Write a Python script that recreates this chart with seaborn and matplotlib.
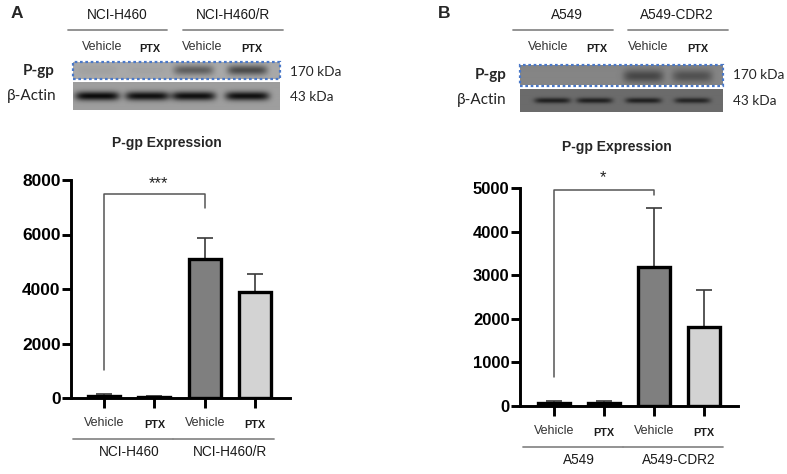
import numpy as np
import pandas as pd
import matplotlib
matplotlib.use("Agg")
import matplotlib.pyplot as plt
import matplotlib.transforms as mtransforms
from matplotlib.patches import Rectangle
import seaborn as sns

# ---------------------------
# Data
# ---------------------------
treatments = ["Vehicle", "PTX", "Vehicle", "PTX"]
cells_a = ["NCI-H460", "NCI-H460/R"]
cells_b = ["A549", "A549-CDR2"]

pgp_a = [80, 50, 5100, 3880]
sem_a = [60, 30, 780, 660]
pgp_b = [80, 80, 3200, 1810]
sem_b = [35, 35, 1340, 860]

# significance bracket: (top, left leg end, right leg end, label)
sig_a = (7500, 1030, 6970, "***")
sig_b = (4960, 660, 4850, "*")

yticks_a = [0, 2000, 4000, 6000, 8000]
yticks_b = [0, 1000, 2000, 3000, 4000, 5000]

bar_colors = ["white", "white", "#7f7f7f", "#d3d3d3"]

# western blot band intensities per lane (0 = none, 1 = saturated)
blot_a_pgp = [0.03, 0.02, 0.28, 0.36]
blot_a_actin = [0.58, 0.56, 0.56, 0.56]
blot_b_pgp = [0.0, 0.0, 0.24, 0.2]
blot_b_actin = [0.30, 0.30, 0.30, 0.28]

# ---------------------------
# Figure setup
# ---------------------------
W, H = 787, 474
sns.set_style("ticks")
plt.rcParams["font.family"] = ["Liberation Sans", "DejaVu Sans"]
fig = plt.figure(figsize=(W / 100, H / 100), dpi=100)


def fx(x):
    return x / W


def fy(y):
    return 1 - y / H


def ftext(x, y, s, **kw):
    kw.setdefault("ha", "center")
    kw.setdefault("va", "center")
    fig.text(fx(x), fy(y), s, **kw)


def make_blot(w, h, centers, amps, bg, half_w, half_h, yc=0.5):
    xs = np.arange(w)[None, :]
    ys = np.arange(h)[:, None]
    img = np.full((h, w), bg, dtype=float)
    for c, a in zip(centers, amps):
        prof_x = np.exp(-((xs - c * w) / half_w) ** 6)
        prof_y = np.exp(-((ys - yc * h) / half_h) ** 2)
        img -= a * prof_x * prof_y
    return np.clip(img, 0, 1)


def draw_blot(x0, y0, x1, y1, centers, amps, bg, half_w, half_h, dotted=False, yc=0.5):
    ax = fig.add_axes([fx(x0), fy(y1), fx(x1 - x0), (y1 - y0) / H])
    img = make_blot(int(x1 - x0), int(y1 - y0), centers, amps, bg, half_w, half_h, yc)
    ax.imshow(img, cmap="gray", vmin=0, vmax=1, aspect="auto", interpolation="bilinear")
    ax.set_axis_off()
    if dotted:
        ax.add_patch(Rectangle((0, 0), 1, 1, transform=ax.transAxes, fill=False,
                               edgecolor="#4a78c8", linestyle=(0, (1.2, 1.2)),
                               linewidth=1.6, clip_on=False))


def bar_panel(rect, values, errs, yticks, xlim, sig, tick_fs):
    ax = fig.add_axes(rect)
    df = pd.DataFrame({
        "group": [f"g{i}" for i in range(len(values))],
        "value": values,
    })
    sns.barplot(data=df, x="group", y="value", hue="group", palette=bar_colors,
                width=0.64, edgecolor="black", linewidth=2.4, legend=False,
                ax=ax, zorder=3)
    ax.errorbar(range(len(values)), values, yerr=[np.zeros(len(errs)), errs],
                fmt="none", ecolor="#3a3a3a", elinewidth=1.2, capsize=5.5,
                capthick=1.2, zorder=2)
    ax.set_xlim(*xlim)
    ax.set_ylim(yticks[0], yticks[-1])
    ax.set_yticks(yticks)
    ax.set_yticklabels([str(t) for t in yticks], fontweight="bold", fontsize=tick_fs)
    ax.set_xticks(range(len(values)))
    ax.set_xticklabels([])
    ax.set_xlabel("")
    ax.set_ylabel("")
    sns.despine(ax=ax)
    for side in ["left", "bottom"]:
        ax.spines[side].set_linewidth(2.1)
        ax.spines[side].set_color("black")
    ax.tick_params(axis="y", length=6.5, width=2.1, pad=1, colors="black")
    ax.tick_params(axis="x", length=7, width=2.1, colors="black")
    ax.patch.set_alpha(0)

    top, left_end, right_end, label = sig
    ax.plot([0, 0, 2, 2], [left_end, top, top, right_end], color="#555555",
            linewidth=1.1, clip_on=False, zorder=4)
    return ax


def under_labels(ax, cells, y_treat, y_line, y_cell):
    tr = mtransforms.blended_transform_factory(ax.transData, fig.transFigure)
    for i, t in enumerate(treatments):
        if t == "PTX":
            ax.text(i, fy(y_treat + 1.5), t, transform=tr, ha="center", va="center",
                    fontsize=7.8, fontweight="bold", color="#1a1a1a")
        else:
            ax.text(i, fy(y_treat), t, transform=tr, ha="center", va="center",
                    fontsize=9, color="#333333")
    for k, c in enumerate(cells):
        x0, x1 = 2 * k - 0.62, 2 * k + 1.38
        ax.plot([x0, x1], [fy(y_line)] * 2, transform=tr, color="#8a8a8a",
                linewidth=1.3, clip_on=False)
        ax.text(2 * k + 0.5, fy(y_cell), c, transform=tr, ha="center", va="center",
                fontsize=9.8, color="#1a1a1a")


# ---------------------------
# Panel A
# ---------------------------
ftext(17, 13, "A", fontsize=12.5, fontweight="bold")
ftext(117, 15, cells_a[0], fontsize=9.8, color="#1a1a1a")
ftext(233, 15, cells_a[1], fontsize=9.8, color="#1a1a1a")
fig.add_artist(plt.Line2D([fx(68), fx(167)], [fy(30)] * 2, color="#8a8a8a", lw=1.3))
fig.add_artist(plt.Line2D([fx(183), fx(283)], [fy(30)] * 2, color="#8a8a8a", lw=1.3))
for xc, t in zip([102, 150, 202, 252], treatments):
    if t == "PTX":
        ftext(xc, 49, t, fontsize=7.8, fontweight="bold", color="#1a1a1a")
    else:
        ftext(xc, 47, t, fontsize=9, color="#333333")

lanes_a = [0.116, 0.357, 0.58, 0.84]
draw_blot(73, 62, 280, 79, lanes_a, blot_a_pgp, 0.66, 20, 5, dotted=True, yc=0.45)
draw_blot(73, 81.5, 280, 110, lanes_a, blot_a_actin, 0.62, 22, 4.3, yc=0.5)
ftext(55, 71, "P-gp", ha="right", fontsize=11, fontweight="bold",
      family=["Lato", "DejaVu Sans"])
ftext(57, 96, "β-Actin", ha="right", fontsize=11, family=["Lato", "DejaVu Sans"],
      color="#222222")
ftext(290, 72, "170 kDa", ha="left", fontsize=9.8, family=["Lato", "DejaVu Sans"])
ftext(290, 97, "43 kDa", ha="left", fontsize=9.8, family=["Lato", "DejaVu Sans"])

ftext(167, 143, "P-gp Expression", fontsize=10, fontweight="bold")
ax_a = bar_panel([fx(71), fy(398), 219 / W, 218 / H], pgp_a, sem_a, yticks_a,
                 (-0.656, 3.695), sig_a, 12.5)
ftext(158, 184, sig_a[3], fontsize=12, color="#222222")
under_labels(ax_a, cells_a, 423, 439, 452.5)

# ---------------------------
# Panel B
# ---------------------------
ftext(444, 13, "B", fontsize=12.5, fontweight="bold")
ftext(567, 15, cells_b[0], fontsize=9.8, color="#1a1a1a")
ftext(677, 15, cells_b[1], fontsize=9.8, color="#1a1a1a")
fig.add_artist(plt.Line2D([fx(513), fx(613)], [fy(30)] * 2, color="#8a8a8a", lw=1.3))
fig.add_artist(plt.Line2D([fx(628), fx(728)], [fy(30)] * 2, color="#8a8a8a", lw=1.3))
for xc, t in zip([548, 597, 648, 698], treatments):
    if t == "PTX":
        ftext(xc, 49, t, fontsize=7.8, fontweight="bold", color="#1a1a1a")
    else:
        ftext(xc, 47, t, fontsize=9, color="#333333")

lanes_b = [0.158, 0.365, 0.606, 0.847]
draw_blot(520, 65, 723, 85.5, lanes_b, blot_b_pgp, 0.52, 20, 6, dotted=True, yc=0.55)
draw_blot(520, 88.5, 723, 112, lanes_b, blot_b_actin, 0.42, 18, 2.6, yc=0.5)
ftext(507, 75, "P-gp", ha="right", fontsize=11, fontweight="bold",
      family=["Lato", "DejaVu Sans"])
ftext(507, 100, "β-Actin", ha="right", fontsize=11, family=["Lato", "DejaVu Sans"],
      color="#222222")
ftext(733, 75, "170 kDa", ha="left", fontsize=9.8, family=["Lato", "DejaVu Sans"])
ftext(733, 101, "43 kDa", ha="left", fontsize=9.8, family=["Lato", "DejaVu Sans"])

ftext(617, 147, "P-gp Expression", fontsize=10, fontweight="bold")
ax_b = bar_panel([fx(520), fy(406), 218 / W, 217.7 / H], pgp_b, sem_b, yticks_b,
                 (-0.68, 3.68), sig_b, 12)
ftext(603, 178, sig_b[3], fontsize=12, color="#222222")
under_labels(ax_b, cells_b, 431, 447, 460)

fig.savefig("out.png", dpi=100, facecolor="white")
